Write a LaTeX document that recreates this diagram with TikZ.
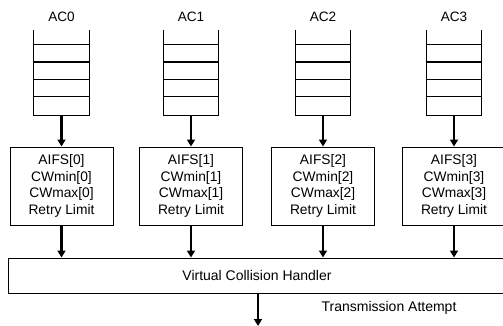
\documentclass[tikz,border=0pt]{standalone}
\usepackage{fontspec}
\setmainfont{Liberation Sans}
\usetikzlibrary{arrows.meta,calc}
\begin{document}
\begin{tikzpicture}[x=1pt,y=-1pt,
  lbl/.style={font=\fontsize{13.6}{16}\selectfont, inner sep=0pt},
  queuebox/.style={minimum width=55pt, minimum height=85pt, inner sep=0pt},
  parambox/.style={draw, line width=1pt, minimum width=103pt, minimum height=78pt, inner sep=0pt, align=center, font=\fontsize{13.8}{16.7}\selectfont},
  handlerbox/.style={draw, line width=1pt, minimum width=498pt, minimum height=35pt, inner sep=0pt, font=\fontsize{14}{16}\selectfont},
  qline/.style={line width=1.2pt},
  flow/.style={line width=2.2pt, -{Triangle[length=7pt,width=8pt]}}
]
\useasboundingbox (0,0) rectangle (503,326);
\foreach \i/\x in {0/61.5,1/191,2/323,3/454}{
  \node[lbl] (l\i) at (\x,17) {AC\i};
  \node[queuebox] (q\i) at (\x,72.5) {};
  \draw[qline] (q\i.north west) -- (q\i.south west) -- (q\i.south east) -- (q\i.north east);
  \foreach \f in {0.176,0.376,0.582,0.782}{
    \draw[qline] ($(q\i.north west)!\f!(q\i.south west)$) -- ($(q\i.north east)!\f!(q\i.south east)$);
  }
  \node[parambox] (b\i) at (\x,186) {AIFS[\i]\\CWmin[\i]\\CWmax[\i]\\Retry Limit};
}
\node[handlerbox] (h) at (257,275.5) {Virtual Collision Handler};
\foreach \i in {0,1,2,3}{
  \draw[flow] (q\i.south) -- (b\i.north);
  \draw[flow] (b\i.south) -- (b\i.south |- h.north);
}
\coordinate (out) at (258,326);
\draw[flow] (h.south -| out) -- (out);
\node[lbl, font=\fontsize{14}{16}\selectfont] (ta) at (389,308) {Transmission Attempt};
\end{tikzpicture}
\end{document}
